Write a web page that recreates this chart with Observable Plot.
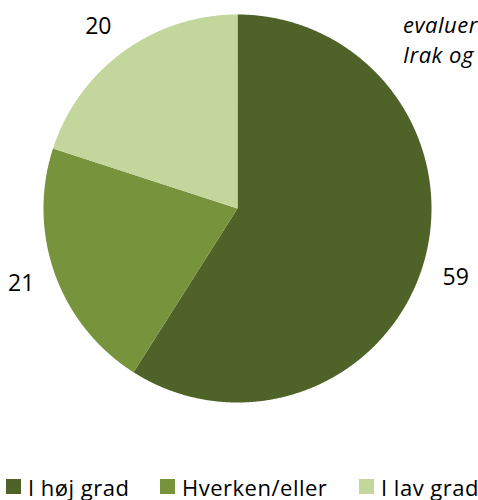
<!DOCTYPE html>
<html>
<head>
<meta charset="utf-8">
<script src="https://cdn.jsdelivr.net/npm/d3@7"></script>
<script src="https://cdn.jsdelivr.net/npm/@observablehq/plot@0.6"></script>
<style>
  html, body { margin: 0; padding: 0; background: #fff; }
  #wrap { position: relative; width: 478px; height: 500px; overflow: hidden; font-family: "Open Sans", sans-serif; color: #000; }
  #chart { position: absolute; left: 0; top: 0; }
  #title { position: absolute; left: 403px; top: 8.5px; font-size: 22px; line-height: 30px; letter-spacing: 0.5px; font-style: italic; white-space: nowrap; }
  .item { position: absolute; top: 471.5px; display: flex; align-items: center; font-size: 22px; line-height: normal; letter-spacing: 0.5px; white-space: nowrap; }
  .sw { width: 15px; height: 15px; margin-right: 7px; flex: none; }
</style>
</head>
<body>
<div id="wrap">
  <div id="chart"></div>
  <div id="title"></div>
  <div id="legend"></div>
</div>
<script>
const categories = ["I høj grad", "Hverken/eller", "I lav grad"];
const values = [59, 21, 20];
const colors = ["#4f6228", "#77933c", "#c3d69b"];
const titleLines = ["evaluer", "Irak og"];

const arcs = d3.pie().sort(null)(values);
const pts = [];
arcs.forEach((a, i) => {
  const cat = categories[i];
  pts.push({cat, x: 0, y: 0});
  const n = Math.max(2, Math.ceil((a.endAngle - a.startAngle) / 0.005));
  for (let k = 0; k <= n; k++) {
    const t = a.startAngle + (a.endAngle - a.startAngle) * k / n;
    pts.push({cat, x: Math.sin(t), y: Math.cos(t)});
  }
  pts.push({cat, x: 0, y: 0});
});
const labels = arcs.map((a, i) => {
  const m = (a.startAngle + a.endAngle) / 2 + 0.025 * (i === 0 ? 1 : i === 1 ? 0.5 : -1);
  const k = 1.18;
  return {text: String(values[i]), x: Math.sin(m) * k, y: Math.cos(m) * k};
});

const chart = Plot.plot({
  width: 478,
  height: 470,
  margin: 0,
  style: {fontFamily: "Open Sans, sans-serif", background: "transparent"},
  x: {domain: [-1, 1], range: [43, 431], axis: null},
  y: {domain: [-1, 1], range: [402, 14], axis: null},
  color: {domain: categories, range: colors},
  marks: [
    Plot.line(pts, {x: "x", y: "y", z: "cat", fill: "cat", stroke: "none"}),
    Plot.text(labels, {x: "x", y: "y", text: "text", fontSize: 23, fill: "#000"})
  ]
});
document.getElementById("chart").appendChild(chart);

document.getElementById("title").innerHTML = titleLines.join("<br>");

const lefts = [6, 160, 359];
const legend = document.getElementById("legend");
categories.forEach((c, i) => {
  const it = document.createElement("div");
  it.className = "item";
  it.style.left = lefts[i] + "px";
  const sw = document.createElement("span");
  sw.className = "sw";
  sw.style.background = colors[i];
  it.appendChild(sw);
  it.appendChild(document.createTextNode(c));
  legend.appendChild(it);
});
</script>
</body>
</html>
